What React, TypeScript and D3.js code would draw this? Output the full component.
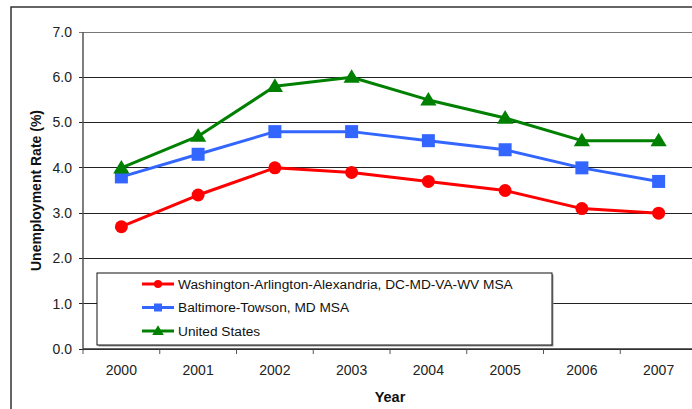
import React from "react";
import * as d3 from "d3";

const years = ["2000", "2001", "2002", "2003", "2004", "2005", "2006", "2007"];
const washington = [2.7, 3.4, 4.0, 3.9, 3.7, 3.5, 3.1, 3.0];
const baltimore = [3.8, 4.3, 4.8, 4.8, 4.6, 4.4, 4.0, 3.7];
const unitedStates = [4.0, 4.7, 5.8, 6.0, 5.5, 5.1, 4.6, 4.6];
const yTicks = [0, 1, 2, 3, 4, 5, 6, 7];
const seriesNames = [
  "Washington-Arlington-Alexandria, DC-MD-VA-WV MSA",
  "Baltimore-Towson, MD MSA",
  "United States",
];

const W = 692;
const H = 409;
const left = 83;
const right = 697;
const top = 32;
const bottom = 349;

const font = "Arial, 'Liberation Sans', sans-serif";

function Marker({ type, x, y, color, s }: { type: string; x: number; y: number; color: string; s: number }) {
  if (type === "circle") return <circle cx={x} cy={y} r={s / 2} fill={color} />;
  if (type === "square") return <rect x={x - s / 2} y={y - s / 2} width={s} height={s} fill={color} />;
  const h = s * 0.95;
  return (
    <path
      d={`M${x},${y - h * 0.6} L${x + s * 0.58},${y + h * 0.42} L${x - s * 0.58},${y + h * 0.42} Z`}
      fill={color}
    />
  );
}

export default function App() {
  const x = d3.scaleBand<string>().domain(years).range([left, right]);
  const y = d3.scaleLinear().domain([0, 7]).range([bottom, top]);
  const series = [
    { name: seriesNames[0], values: washington, color: "#FF0000", marker: "circle", size: 13 },
    { name: seriesNames[1], values: baltimore, color: "#3366FF", marker: "square", size: 13 },
    { name: seriesNames[2], values: unitedStates, color: "#008000", marker: "triangle", size: 14 },
  ];
  const line = d3
    .line<number>()
    .x((_, i) => (x(years[i]) as number) + x.bandwidth() / 2)
    .y((d) => y(d));

  const legX = 97, legY = 273, legW = 455, legH = 72;

  return (
    <svg
      width={W}
      height={H}
      style={{ position: "absolute", left: 0, top: 0, background: "#fff" }}
      fontFamily={font}
    >
      <rect x={0} y={0} width={W} height={H} fill="#fff" />
      {/* outer frame */}
      <rect x={11} y={7} width={W + 20} height={H + 20} fill="none" stroke="#333" strokeWidth={1.5} />

      {/* gridlines */}
      {yTicks.map((t) => (
        <line
          key={t}
          x1={left - 4}
          x2={right}
          y1={y(t)}
          y2={y(t)}
          stroke={t === 7 ? "#777" : "#222"}
          strokeWidth={1}
          shapeRendering="crispEdges"
        />
      ))}
      {/* y axis */}
      <line x1={left} x2={left} y1={top} y2={bottom} stroke="#555" strokeWidth={1.5} />
      {/* x axis ticks */}
      {years.concat(["end"]).map((yr, i) => {
        const xx = left + i * x.bandwidth();
        return <line key={i} x1={xx} x2={xx} y1={bottom} y2={bottom + 5} stroke="#555" strokeWidth={1} />;
      })}
      <line x1={left} x2={right} y1={bottom} y2={bottom} stroke="#333" strokeWidth={1.5} />

      {/* y tick labels */}
      {yTicks.map((t) => (
        <text key={t} x={72} y={y(t)} dy="0.35em" textAnchor="end" fontSize={14} fill="#222">
          {t.toFixed(1)}
        </text>
      ))}
      {/* x tick labels */}
      {years.map((yr) => (
        <text
          key={yr}
          x={(x(yr) as number) + x.bandwidth() / 2}
          y={370}
          dy="0.35em"
          textAnchor="middle"
          fontSize={14}
          fill="#222"
        >
          {yr}
        </text>
      ))}
      <text x={390} y={397} dy="0.35em" textAnchor="middle" fontSize={14.5} fontWeight="bold" fill="#111">
        Year
      </text>
      <text
        transform={`translate(36, ${(top + bottom) / 2}) rotate(-90)`}
        textAnchor="middle"
        dy="0.35em"
        fontSize={14}
        fontWeight="bold"
        fill="#111"
      >
        Unemployment Rate (%)
      </text>

      {/* legend */}
      <rect x={legX + 1.5} y={legY + 1.5} width={legW} height={legH} fill="#999" />
      <rect x={legX} y={legY} width={legW} height={legH} fill="#fff" stroke="#111" strokeWidth={1} />

      {/* series */}
      {series.map((s) => (
        <g key={s.name}>
          <path d={line(s.values) || ""} fill="none" stroke={s.color} strokeWidth={3} strokeLinejoin="round" />
          {s.values.map((v, i) => (
            <Marker
              key={i}
              type={s.marker}
              x={(x(years[i]) as number) + x.bandwidth() / 2}
              y={y(v)}
              color={s.color}
              s={s.size}
            />
          ))}
        </g>
      ))}

      {series.map((s, i) => {
        const ly = 284 + i * 23.5;
        return (
          <g key={s.name}>
            <line x1={142} x2={174} y1={ly} y2={ly} stroke={s.color} strokeWidth={3} />
            <Marker type={s.marker} x={158} y={ly} color={s.color} s={s.marker === "triangle" ? 10 : 8} />
            <text x={178} y={ly} dy="0.35em" fontSize={13.7} fill="#111">
              {s.name}
            </text>
          </g>
        );
      })}
    </svg>
  );
}
